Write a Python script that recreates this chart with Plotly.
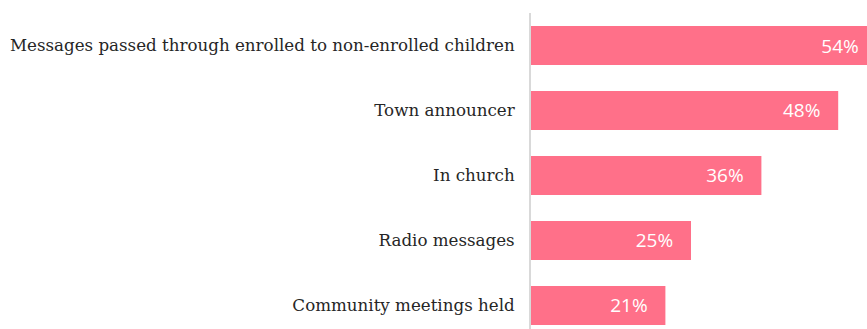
import plotly.graph_objects as go

# Channels through which parents heard about the programme (share of respondents, %)
categories = [
    "Messages passed through enrolled to non-enrolled children",
    "Town announcer",
    "In church",
    "Radio messages",
    "Community meetings held",
]
shares = [54, 48, 36, 25, 21]

bar_color = "#FF7089"
pad = "\u00a0" * 3

fig = go.Figure(
    go.Bar(
        x=shares,
        y=categories,
        orientation="h",
        width=0.6,
        marker=dict(color=bar_color, line=dict(width=0)),
        text=[f"{v}%{pad}" for v in shares],
        textposition="inside",
        insidetextanchor="end",
        textfont=dict(family="Open Sans", size=19, color="white"),
        cliponaxis=True,
        hoverinfo="skip",
    )
)

fig.update_layout(
    width=867,
    height=329,
    margin=dict(l=531, r=0, t=13, b=0),
    paper_bgcolor="white",
    plot_bgcolor="white",
    showlegend=False,
    xaxis=dict(
        range=[0, 52.5],
        showgrid=False,
        zeroline=False,
        showticklabels=False,
        showline=False,
        fixedrange=True,
    ),
    yaxis=dict(
        type="category",
        categoryorder="array",
        categoryarray=categories,
        range=[4.362, -0.5],
        showgrid=False,
        zeroline=False,
        showline=True,
        linecolor="#D9D9D9",
        linewidth=2,
        ticks="",
        ticklabelstandoff=11,
        tickfont=dict(family="DejaVu Serif", size=16.7, color="#262626"),
        fixedrange=True,
    ),
)

fig.write_html("out.html")
